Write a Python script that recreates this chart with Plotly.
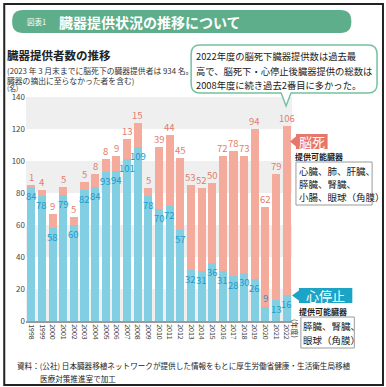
import plotly.graph_objects as go

years = [str(y) for y in range(1998, 2023)]
cardiac = [84, 78, 58, 79, 60, 82, 84, 93, 94, 101, 109, 78, 70, 72, 57, 32, 31, 36, 31, 28, 30, 26, 9, 13, 16]
brain = [1, 4, 9, 5, 5, 5, 8, 8, 9, 13, 15, 5, 39, 44, 45, 53, 52, 50, 72, 78, 73, 94, 62, 79, 106]
yticks = [0, 20, 40, 60, 80, 100, 120, 140]

W, H = 386, 387
L, R, T, B = 23, 94, 97, 66
PW, PH = W - L - R, H - T - B
FONT = "Noto Sans CJK JP"

BLUE = "#82cfe3"
PINK = "#f5ab9b"
BLUE_T = "#1c9ccb"
PINK_T = "#e27d6c"


def px(x):
    return (x - L) / PW


def py(y):
    return 1 - (y - T) / PH


def rrect(x0, y0, x1, y1, r):
    return (f"M {px(x0 + r)},{py(y0)} L {px(x1 - r)},{py(y0)} Q {px(x1)},{py(y0)} {px(x1)},{py(y0 + r)} "
            f"L {px(x1)},{py(y1 - r)} Q {px(x1)},{py(y1)} {px(x1 - r)},{py(y1)} "
            f"L {px(x0 + r)},{py(y1)} Q {px(x0)},{py(y1)} {px(x0)},{py(y1 - r)} "
            f"L {px(x0)},{py(y0 + r)} Q {px(x0)},{py(y0)} {px(x0 + r)},{py(y0)} Z")


fig = go.Figure()
fig.add_trace(go.Bar(x=years, y=cardiac, marker=dict(color=BLUE, line_width=0), hoverinfo="skip"))
fig.add_trace(go.Bar(x=years, y=brain, marker=dict(color=PINK, line_width=0), hoverinfo="skip"))

shapes = []
for lo in [0, 40, 80, 120]:
    shapes.append(dict(type="rect", xref="paper", yref="y", x0=0, x1=1, y0=lo, y1=lo + 20,
                       fillcolor="#efefef", line_width=0, layer="below"))
shapes.append(dict(type="rect", xref="paper", yref="paper", x0=px(1), x1=px(384), y0=py(4), y1=py(385),
                   line=dict(color="#222", width=2), fillcolor="rgba(0,0,0,0)"))
shapes.append(dict(type="path", xref="paper", yref="paper", path=rrect(9, 10, 352, 33, 11),
                   fillcolor="#5fae8b", line_width=0))
cx0, cy0, cx1, cy1, r = 190, 45, 378, 93, 9
callout = (f"M {px(cx0 + r)},{py(cy0)} L {px(cx1 - r)},{py(cy0)} Q {px(cx1)},{py(cy0)} {px(cx1)},{py(cy0 + r)} "
           f"L {px(cx1)},{py(cy1 - r)} Q {px(cx1)},{py(cy1)} {px(cx1 - r)},{py(cy1)} "
           f"L {px(291)},{py(cy1)} L {px(286)},{py(106)} L {px(281)},{py(cy1)} "
           f"L {px(cx0 + r)},{py(cy1)} Q {px(cx0)},{py(cy1)} {px(cx0)},{py(cy1 - r)} "
           f"L {px(cx0)},{py(cy0 + r)} Q {px(cx0)},{py(cy0)} {px(cx0 + r)},{py(cy0)} Z")
shapes.append(dict(type="path", xref="paper", yref="paper", path=callout,
                   fillcolor="white", line=dict(color="#74c2a0", width=1.5)))
tag1 = (f"M {px(290)},{py(141.5)} L {px(296)},{py(136.5)} L {px(296)},{py(134)} L {px(328)},{py(134)} "
        f"L {px(328)},{py(149)} L {px(296)},{py(149)} L {px(296)},{py(146.5)} Z")
shapes.append(dict(type="path", xref="paper", yref="paper", path=tag1, fillcolor="#e8776b", line_width=0))
shapes.append(dict(type="rect", xref="paper", yref="paper", x0=px(296), x1=px(373), y0=py(162), y1=py(205),
                   line=dict(color="#9a9a9a", width=1), fillcolor="white"))
tag2 = (f"M {px(292)},{py(295.5)} L {px(299)},{py(290.5)} L {px(299)},{py(288)} L {px(353)},{py(288)} "
        f"L {px(353)},{py(303)} L {px(299)},{py(303)} L {px(299)},{py(300.5)} Z")
shapes.append(dict(type="path", xref="paper", yref="paper", path=tag2, fillcolor="#1ca4c6", line_width=0))
shapes.append(dict(type="rect", xref="paper", yref="paper", x0=px(301), x1=px(355), y0=py(317), y1=py(348),
                   line=dict(color="#9a9a9a", width=1), fillcolor="white"))

ann = []


def text(x, y, s, size, color="#222", bold=False, xanchor="left", yanchor="middle", angle=0):
    if bold:
        s = f"<b>{s}</b>"
    ann.append(dict(xref="paper", yref="paper", x=px(x), y=py(y), text=s, showarrow=False,
                    font=dict(size=size, color=color, family=FONT), xanchor=xanchor, yanchor=yanchor,
                    align="left", textangle=angle, borderpad=0))


for i, yr in enumerate(years):
    c, b = cardiac[i], brain[i]
    big = c >= 12
    ann.append(dict(x=i, y=c, xref="x", yref="y", text=str(c), showarrow=False,
                    yanchor="top" if big else "bottom", yshift=-1 if big else 1, borderpad=0,
                    font=dict(size=9.5, color=BLUE_T, family=FONT)))
    ann.append(dict(x=i, y=c + b, xref="x", yref="y", text=str(b), showarrow=False, yanchor="bottom",
                    yshift=0, borderpad=0, font=dict(size=9.5, color=PINK_T, family=FONT)))

text(23, 21.5, "図表1", 7.5, "white")
text(55, 21.5, "臓器提供状況の推移について", 14, "white", bold=True)
text(3, 55, "臓器提供者数の推移", 11.5, "#222", bold=True)
text(3, 75.5, "(2023 年 3 月末までに脳死下の臓器提供者は 934 名。<br>臓器の摘出に至らなかった者を含む)", 7.8, "#333")
text(3, 87.5, "(名)", 6.8, "#333")
text(194, 56, "2022年度の脳死下臓器提供数は過去最", 9.3, "#222")
text(194, 70.5, "高で、脳死下・心停止後臓器提供の総数は", 9.3, "#222")
text(194, 85, "2008年度に続き過去2番目に多かった。", 9.3, "#222")
text(312, 141.5, "脳死", 13, "white", xanchor="center")
text(294, 156, "提供可能臓器", 8, "#222", bold=True)
text(298, 171, "心臓、肺、肝臓、", 9.5, "#222")
text(298, 184, "膵臓、腎臓、", 9.5, "#222")
text(298, 197, "小腸、眼球（角膜）", 9.5, "#222")
text(326, 295.5, "心停止", 13, "white", xanchor="center")
text(298, 311, "提供可能臓器", 8, "#222", bold=True)
text(302, 326, "膵臓、腎臓、", 9.5, "#222")
text(302, 340, "眼球（角膜）", 9.5, "#222")
text(295, 329, "(年度)", 7, "#333", xanchor="center", angle=90)
text(13, 365, "資料：(公社) 日本臓器移植ネットワークが提供した情報をもとに厚生労働省健康・生活衛生局移植", 7.6, "#222")
text(36, 378, "医療対策推進室で加工", 7.6, "#222")

fig.update_layout(
    width=W, height=H, margin=dict(l=L, r=R, t=T, b=B, pad=0),
    paper_bgcolor="white", plot_bgcolor="white",
    barmode="stack", bargap=0.24, showlegend=False,
    shapes=shapes, annotations=ann,
    font=dict(family=FONT, color="#333"),
    xaxis=dict(type="category", range=[-0.5, 24.5], tickangle=90, tickfont=dict(size=7, color="#444"),
               showgrid=False, showline=True, linecolor="#9a9a9a", linewidth=1.5, ticks="", fixedrange=True),
    yaxis=dict(range=[0, 140], tickvals=yticks, tickfont=dict(size=8, color="#444"), showgrid=False,
               zeroline=False, showline=False, ticks="", fixedrange=True),
)

fig.write_html("out.html", config={"displayModeBar": False},
               post_script="document.body.style.margin='0';document.body.style.overflow='hidden';")
